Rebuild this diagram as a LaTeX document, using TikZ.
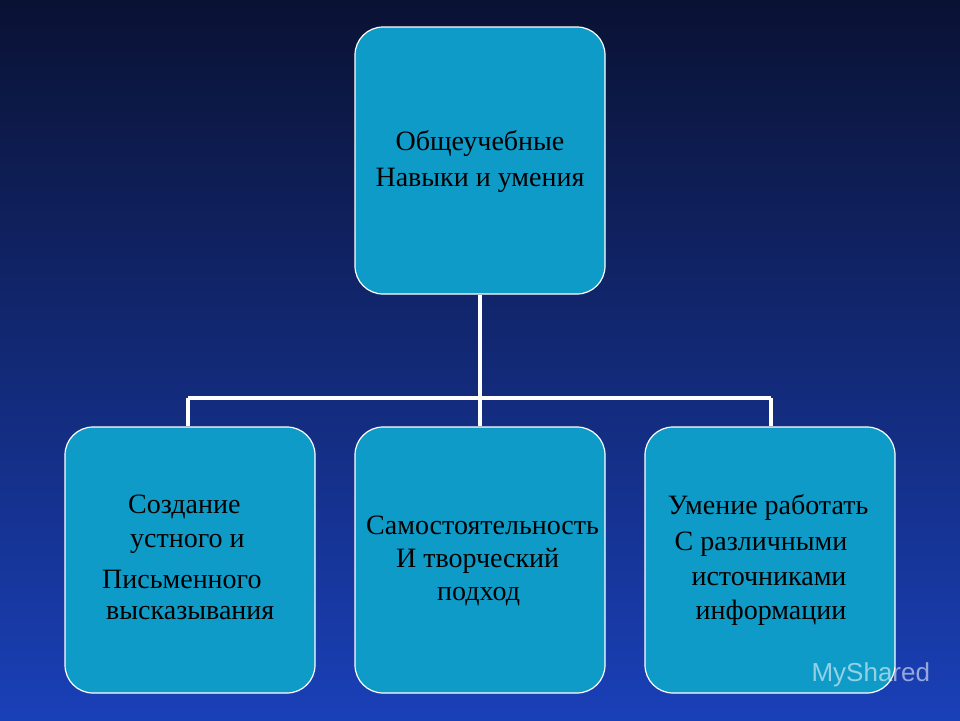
\documentclass[tikz,border=0pt]{standalone}
\usepackage{fontspec}
\setmainfont{Liberation Serif}
\newfontfamily\wmfont{Liberation Sans}
\definecolor{bgtop}{HTML}{0A1233}
\definecolor{bgbot}{HTML}{1A40B8}
\definecolor{boxfill}{HTML}{0E9BC7}
\begin{document}
\begin{tikzpicture}[x=1pt,y=-1pt,
  box/.style={draw=white,line width=1.2pt,fill=boxfill,rounded corners=28pt},
  lbl/.style={font=\fontsize{28}{28}\selectfont,text=black,inner sep=0pt},
  conn/.style={draw=white,line width=4pt}]
\shade[top color=bgtop,bottom color=bgbot] (0,0) rectangle (960,720);
\useasboundingbox (0,0) rectangle (960,720);
\path[box] (355,27) rectangle (605,294);
\path[box] (65,427) rectangle (315,693);
\path[box] (355,427) rectangle (605,693);
\path[box] (645,427) rectangle (895,693);
\coordinate (t) at (480,295);
\coordinate (m) at (480,398);
\coordinate (l) at (188,398);
\coordinate (r) at (771,398);
\coordinate (lb) at (188,426);
\coordinate (mb) at (480,426);
\coordinate (rb) at (771,426);
\draw[conn] (t) -- (m) (l) -- (r);
\draw[conn] (l) -- (lb) (m) -- (mb) (r) -- (rb);
\node[lbl] (a1) at (480,143) {Общеучебные};
\node[lbl] (a2) at (480,180) {Навыки и умения};
\node[lbl,anchor=west] (b1) at (128,507) {Создание};
\node[lbl,anchor=west] (b2) at (130,544) {устного и};
\node[lbl,anchor=west] (b3) at (102,579) {Письменного};
\node[lbl,anchor=west] (b4) at (106,613) {высказывания};
\node[lbl,anchor=west] (c1) at (366,525) {Самостоятельность};
\node[lbl,anchor=west] (c2) at (396,561) {И творческий};
\node[lbl,anchor=west] (c3) at (437,597) {подход};
\node[lbl] (d1) at (768,507) {Умение работать};
\node[lbl] (d2) at (761,544) {С различными};
\node[lbl] (d3) at (769,579) {источниками};
\node[lbl] (d4) at (771,613) {информации};
\node[font=\wmfont\fontsize{26}{26}\selectfont,text=white,opacity=0.55,anchor=west] (wm) at (808,675) {MyShared};
\end{tikzpicture}
\end{document}
